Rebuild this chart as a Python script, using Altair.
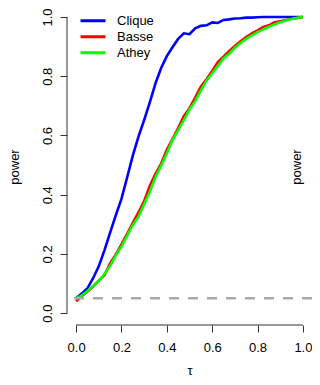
import altair as alt
import pandas as pd

tau = [i * 0.025 for i in range(41)]

clique = [0.050, 0.066, 0.084, 0.118, 0.158, 0.212, 0.272, 0.330, 0.386, 0.458,
          0.532, 0.596, 0.652, 0.712, 0.776, 0.828, 0.868, 0.898, 0.926, 0.945,
          0.942, 0.962, 0.970, 0.972, 0.982, 0.980, 0.990, 0.992, 0.995, 0.996,
          0.998, 0.998, 0.999, 1.0, 1.0, 1.0, 1.0, 1.0, 1.0, 1.0, 1.0]
basse = [0.040, 0.058, 0.072, 0.090, 0.110, 0.128, 0.168, 0.198, 0.232, 0.268,
         0.305, 0.340, 0.378, 0.430, 0.470, 0.505, 0.552, 0.588, 0.625, 0.665,
         0.692, 0.728, 0.765, 0.790, 0.818, 0.848, 0.866, 0.885, 0.902, 0.918,
         0.932, 0.945, 0.955, 0.966, 0.972, 0.982, 0.986, 0.990, 0.994, 0.997, 1.0]
athey = [0.050, 0.060, 0.074, 0.092, 0.108, 0.132, 0.160, 0.195, 0.225, 0.262,
         0.298, 0.326, 0.368, 0.410, 0.460, 0.498, 0.540, 0.584, 0.618, 0.652,
         0.688, 0.716, 0.752, 0.785, 0.810, 0.835, 0.860, 0.876, 0.896, 0.912,
         0.926, 0.938, 0.949, 0.958, 0.967, 0.975, 0.982, 0.988, 0.993, 0.997, 1.0]

series_names = ["Clique", "Basse", "Athey"]
series_colors = ["#0000ff", "#ff0000", "#00ff00"]
alpha_level = 0.05
tick_values = [0, 0.2, 0.4, 0.6, 0.8, 1.0]

rows = []
for name, vals in zip(series_names, [clique, basse, athey]):
    for t, v in zip(tau, vals):
        rows.append({"tau": t, "power": v, "series": name})
df = pd.DataFrame(rows)

FONT = "Liberation Sans"
AXIS_COLOR = "#333333"

# R-style plot region: data range extended by 4% on each side
xscale = alt.Scale(domain=[-0.04, 1.04], nice=False, zero=False)
yscale = alt.Scale(domain=[-0.04, 1.0304], nice=False, zero=False)
color_scale = alt.Scale(domain=series_names, range=series_colors)

xaxis = alt.Axis(values=tick_values, format=".1f", title="τ", grid=False,
                 domain=False, tickSize=7, labelPadding=9, titlePadding=10,
                 tickColor=AXIS_COLOR)
yaxis = alt.Axis(values=tick_values, format=".1f", title="power", grid=False,
                 domain=False, tickSize=7, labelPadding=6, labelAngle=270,
                 labelAlign="center", labelBaseline="bottom",
                 titlePadding=20, tickColor=AXIS_COLOR)

legend = alt.Legend(title=None, orient="none", legendX=12, legendY=5,
                    symbolType="stroke", symbolSize=625, symbolStrokeWidth=3,
                    labelFontSize=13, labelFont=FONT, labelOffset=10,
                    clipHeight=15.5, rowPadding=0, padding=0)

layers = []
for name in series_names:
    sub = df[df["series"] == name]
    layers.append(alt.Chart(sub).mark_line(strokeWidth=2.6).encode(
        x=alt.X("tau:Q", scale=xscale, axis=xaxis),
        y=alt.Y("power:Q", scale=yscale, axis=yaxis),
        color=alt.Color("series:N", scale=color_scale, legend=legend),
    ))

# axis lines spanning only 0..1 (R style)
x_axis_line = alt.Chart().mark_rule(color=AXIS_COLOR, strokeWidth=1).encode(
    x=alt.datum(0, scale=xscale), x2=alt.datum(1), y=alt.datum(-0.04, scale=yscale))
y_axis_line = alt.Chart().mark_rule(color=AXIS_COLOR, strokeWidth=1).encode(
    y=alt.datum(0, scale=yscale), y2=alt.datum(1), x=alt.datum(-0.04, scale=xscale))

ref = pd.DataFrame({"power": [alpha_level]})
rule = alt.Chart(ref).mark_rule(color="#aaaaaa", strokeWidth=2.5, strokeDash=[10, 9]).encode(
    y=alt.Y("power:Q", scale=yscale,
            axis=alt.Axis(orient="right", title="power", domain=False, ticks=False,
                          labels=False, grid=False, offset=-9, titleAngle=270,
                          titlePadding=0)),
)

lines = alt.layer(x_axis_line, y_axis_line, *layers)
chart = alt.layer(lines, rule).resolve_axis(y="independent").properties(
    width=245, height=317,
    autosize=alt.AutoSizeParams(type="none"),
    padding={"left": 59, "top": 0, "right": 0, "bottom": 52},
).configure_view(stroke=None).configure_axis(
    labelFont=FONT, titleFont=FONT, labelFontSize=13, titleFontSize=13,
    titleFontWeight="normal", labelColor="#000000", titleColor="#000000",
)

chart.save("out.html", embed_options={"renderer": "svg", "actions": False})
